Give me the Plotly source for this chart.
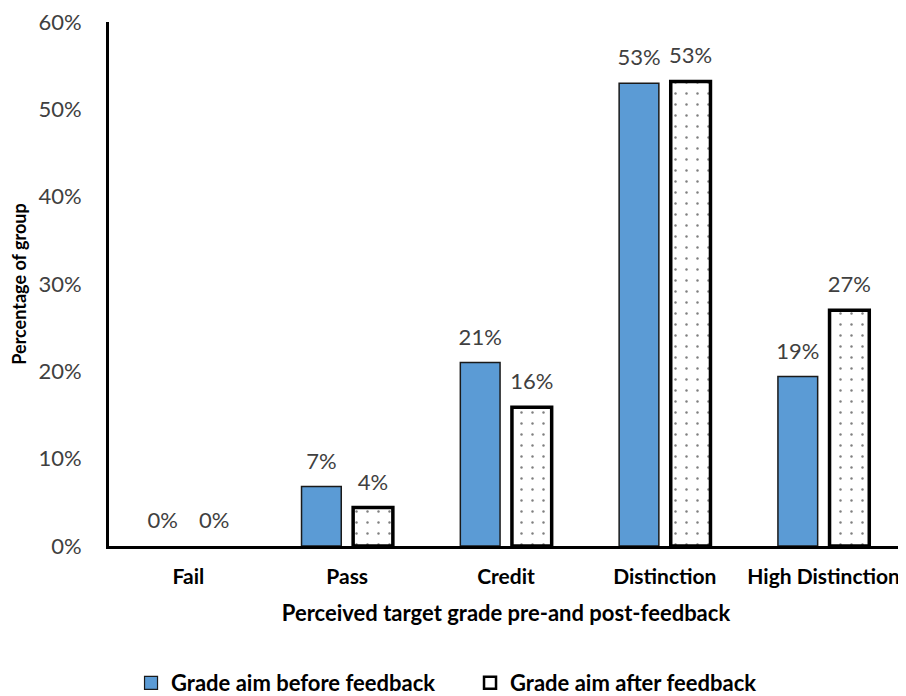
import plotly.graph_objects as go

categories = ["Fail", "Pass", "Credit", "Distinction", "High Distinction"]
before_vals = [0, 6.8, 21.0, 53.0, 19.4]
after_vals = [0, 4.4, 15.9, 53.2, 27.0]
before_labels = ["0%", "7%", "21%", "53%", "19%"]
after_labels = ["0%", "4%", "16%", "53%", "27%"]
y_ticks = [0, 10, 20, 30, 40, 50, 60]
y_tick_text = ["0%", "10%", "20%", "30%", "40%", "50%", "60%"]
series_names = ["Grade aim before feedback", "Grade aim after feedback"]

FONT = "Lato, Carlito, Calibri, sans-serif"
FS = 22
BLUE = "#5B9BD5"
# label text at 22px, followed by a small blank line to lift it a little above the bar
LABEL_TMPL = "<span style='font-size:22px'>%{text}</span><br>&nbsp;"

fig = go.Figure()
fig.add_trace(go.Bar(
    x=categories, y=before_vals, name=series_names[0], showlegend=False,
    text=before_labels, texttemplate=LABEL_TMPL, textposition="outside",
    constraintext="none",
    textfont=dict(family=FONT, size=10, color="#404040"),
    marker=dict(color=BLUE,
                line=dict(color="#1a1a1a", width=[0 if v == 0 else 1.5 for v in before_vals])),
    cliponaxis=False,
))
fig.add_trace(go.Bar(
    x=categories, y=after_vals, name=series_names[1], showlegend=False,
    text=after_labels, texttemplate=LABEL_TMPL, textposition="outside",
    constraintext="none",
    textfont=dict(family=FONT, size=10, color="#404040"),
    marker=dict(color="white",
                line=dict(color="black", width=[0 if v == 0 else 3.5 for v in after_vals]),
                pattern=dict(shape=".", size=11, solidity=0.04,
                             fgcolor="black", bgcolor="white")),
    cliponaxis=False,
))
# legend entries (no data drawn)
fig.add_trace(go.Scatter(
    x=[None], y=[None], mode="markers", name="<b>" + series_names[0] + "</b>",
    marker=dict(symbol="square", size=13, color=BLUE, line=dict(color="#1a1a1a", width=1.2)),
))
fig.add_trace(go.Scatter(
    x=[None], y=[None], mode="markers", name="<b>" + series_names[1] + "</b>",
    marker=dict(symbol="square", size=12, color="white", line=dict(color="black", width=2.5)),
))

fig.update_layout(
    width=898, height=696,
    margin=dict(l=101, r=3, t=14, b=158),
    plot_bgcolor="white", paper_bgcolor="white",
    font=dict(family=FONT, size=FS, color="#404040"),
    barmode="group", bargap=0.35, bargroupgap=0.23,
    showlegend=True,
    legend=dict(orientation="h", xref="container", yref="container",
                x=0.137, xanchor="left", y=0.0302, yanchor="middle",
                font=dict(family=FONT, size=FS, color="black"),
                entrywidth=294, traceorder="normal"),
    xaxis=dict(
        showline=True, linecolor="black", linewidth=3,
        ticks="", showgrid=False, automargin=False,
        tickfont=dict(family=FONT, size=21, color="black"),
        ticklabelstandoff=10,
        title=dict(text="<b>Perceived target grade pre-and post-feedback</b>",
                   font=dict(family=FONT, size=FS, color="black"), standoff=19),
        tickprefix="<b>", ticksuffix="</b>",
    ),
    yaxis=dict(
        range=[0, 60], tickvals=y_ticks, ticktext=y_tick_text,
        showline=True, linecolor="black", linewidth=3,
        ticks="", showgrid=False, zeroline=False, automargin=False,
        ticklabeloverflow="allow",
        tickfont=dict(family=FONT, size=FS, color="#404040"),
        ticklabelstandoff=20,
        title=dict(text="<b>Percentage of group</b>",
                   font=dict(family=FONT, size=18, color="black"), standoff=14),
    ),
)

fig.write_html("out.html")
